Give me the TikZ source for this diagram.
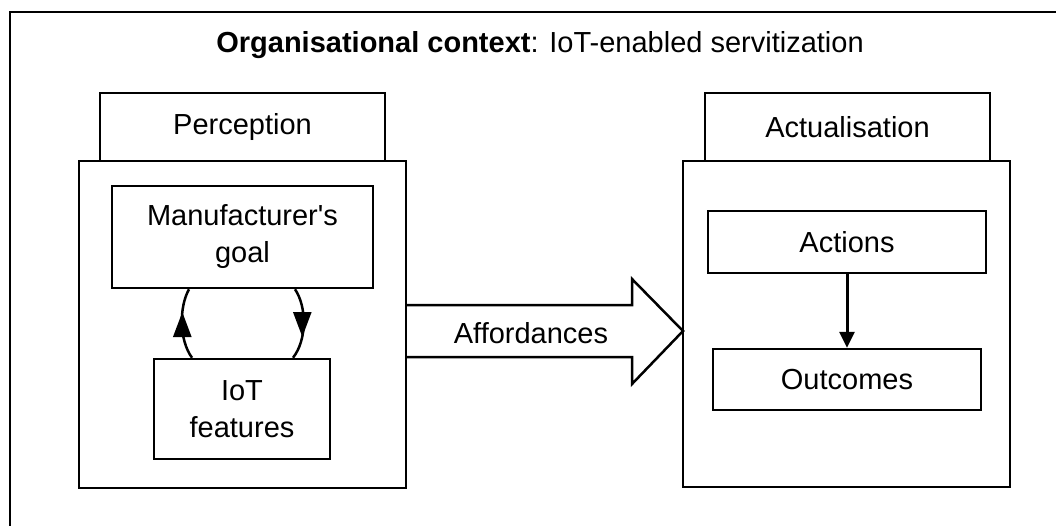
\documentclass[tikz,border=0pt]{standalone}
\usepackage{fontspec}
\setmainfont{Liberation Sans}
\usetikzlibrary{positioning,arrows.meta}

\tikzset{
  looptip/.tip={Triangle[length=25pt,width=18pt]},
  downtip/.tip={Triangle[length=16pt,width=15pt]},
  box/.style={draw, line width=2.5pt, inner sep=0pt, align=center},
  loopline/.style={line width=2.5pt},
  fatarrow/.style={draw, line width=2.5pt, line join=miter}
}

\begin{document}
\begin{tikzpicture}[x=1pt, y=-1pt, font=\fontsize{29}{37}\selectfont]
          \useasboundingbox (0,0) rectangle (1056,525);
          \clip (0,0) rectangle (1056,525);
          \draw[line width=2.5pt] (10,12) rectangle (1070,540);
          \node (title) at (540,45) {\textbf{Organisational context}: IoT-enabled servitization};
          % perception side
          \node[box, minimum width=285pt, minimum height=68pt] (perception) at (242.5,127) {Perception};
          \node[box, minimum width=327pt, minimum height=327pt] (percbox) at (242.5,324.5) {};
          \node[box, minimum width=261pt, minimum height=102pt] (goal) at (242.5,237) {Manufacturer\textquotesingle s\\goal};
          \node[box, minimum width=176pt, minimum height=100pt] (iot) at (242,409) {IoT\\features};
          \draw[loopline] ([xshift=-50pt]iot.north) .. controls (179,340) and (179,307) .. ([xshift=-53.5pt]goal.south);
          \draw[loopline] ([xshift=52.5pt]goal.south) .. controls (307,307) and (307,340) .. ([xshift=51pt]iot.north);
          \coordinate (upL) at (182.3,312);
          \coordinate (downR) at (302.3,337);
          \draw[loopline, -looptip] ([yshift=-24pt]upL) -- (upL);
          \draw[loopline, -looptip] ([yshift=24pt]downR) -- (downR);
          % actualisation side
          \node[box, minimum width=285pt, minimum height=68pt] (actualisation) at (847.5,127) {Actualisation};
          \node[box, minimum width=327pt, minimum height=326pt] (actbox) at (846.5,324) {};
          \node[box, minimum width=278pt, minimum height=62pt] (actions) at (847,242) {Actions};
          \node[box, minimum width=268pt, minimum height=61pt] (outcomes) at (847,379.5) {Outcomes};
          \draw[-downtip, line width=3pt] (actions) -- (outcomes);
          % affordances
          \draw[fatarrow] (405,305) -- (632,305) -- (632,279) -- (683,331) -- (632,384) -- (632,357) -- (405,357);
          \node (afford) at (531,333) {Affordances};
        \end{tikzpicture}
\end{document}
